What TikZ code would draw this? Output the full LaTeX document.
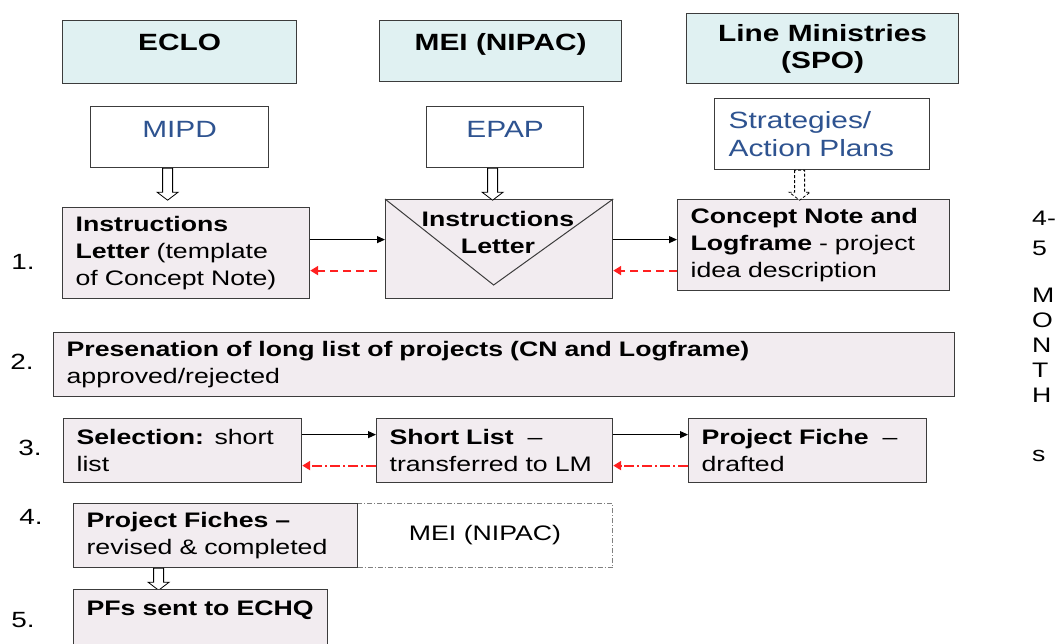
\documentclass[tikz,border=0pt]{standalone}
\usepackage{fontspec}
\setmainfont{Liberation Sans}[FakeStretch=1.27]
\usetikzlibrary{arrows.meta,calc}
\definecolor{hdrfill}{HTML}{E0F1F2}
\definecolor{procfill}{HTML}{F2ECF0}
\definecolor{edgegray}{HTML}{3C3C3C}
\definecolor{srcblue}{HTML}{2E5390}
\definecolor{backred}{HTML}{FF2020}
\newcommand{\hdown}[4][]{\draw[hollowarrow,#1] ($(#2)+(#3-5,0)$) -- ++(0,#4-8) -- ++(-5.5,0) -- ++(10.5,8) -- ++(10.5,-8) -- ++(-5.5,0) -- ++(0,8-#4) -- cycle;}
\begin{document}
\begin{tikzpicture}[x=1pt,y=-1pt,
  hdr/.style={draw=edgegray, line width=1.2pt, fill=hdrfill, anchor=north west, inner xsep=0pt, inner ysep=0pt, align=center, font=\fontsize{23.5}{27}\selectfont\bfseries},
  src/.style={draw=edgegray, line width=1.2pt, fill=white, anchor=north west, inner xsep=0pt, inner ysep=0pt, text=srcblue, font=\fontsize{23.5}{28}\selectfont},
  proc/.style={draw=edgegray, line width=1.2pt, fill=procfill, anchor=north west, inner xsep=13pt, inner ysep=0pt, align=left, font=\fontsize{21}{27}\selectfont},
  plain/.style={inner sep=0pt, font=\fontsize{21}{27}\selectfont},
  num/.style={inner sep=0pt, font=\fontsize{22}{26}\selectfont},
  fwd/.style={draw=black, line width=1.1pt, -{Triangle[length=8pt,width=7pt]}},
  backdash/.style={draw=backred, line width=2pt, dash pattern=on 8pt off 5pt, -{Triangle[length=8pt,width=9pt]}},
  backdot/.style={draw=backred, line width=2pt, dash pattern=on 10pt off 3pt on 2pt off 3pt, -{Triangle[length=8pt,width=9pt]}},
  hollowarrow/.style={draw=black, line width=0.8pt, fill=white},
  dashbox/.style={draw=gray, line width=1pt, dash pattern=on 5pt off 2pt on 1pt off 2pt, anchor=north west, inner sep=0pt, font=\fontsize{21}{27}\selectfont}
]
\useasboundingbox (0,0) rectangle (1059,643);

% headers
\node[hdr, minimum width=234, text height=30pt, text depth=33pt] (eclo) at (62,20) {ECLO};
\node[hdr, minimum width=242, text height=30pt, text depth=31pt] (meih) at (379,20) {MEI (NIPAC)};
\node[hdr, minimum width=272, minimum height=70] (lmh) at (686,13) {Line Ministries\\(SPO)};

% sources
\node[src, minimum width=178, text height=31pt, text depth=30pt] (mipd) at (90,106) {MIPD};
\node[src, minimum width=157, text height=31pt, text depth=30pt] (epap) at (426,106) {EPAP};
\node[src, minimum width=215, minimum height=71, inner xsep=14pt, text width=187pt, align=left] (strat) at (714,98) {Strategies/\\Action Plans};

% row 1
\node[proc, minimum height=91, text width=221pt] (inst) at (62,207) {\textbf{Instructions}\\\textbf{Letter} (template\\of Concept Note)};
\node[proc, minimum width=227, minimum height=99, inner xsep=0pt] (env) at (385,199) {};
\draw[edgegray, line width=1pt] (env.north west) -- ($(env.north west)!0.476!(env.north east)+(0,86)$) -- (env.north east);
\node[plain, align=center, font=\fontsize{21}{27}\selectfont\bfseries] (envtxt) at (498,232.5) {Instructions\\Letter};
\node[proc, minimum height=91, text width=246pt] (cn) at (677,199) {\textbf{Concept Note and}\\\textbf{Logframe} - project\\idea description};

\hdown{mipd.south}{-12}{32}
\hdown{epap.south}{-12.5}{32}
\hdown[dash pattern=on 3pt off 2pt]{strat.south}{-22.5}{30}

\draw[fwd] ([yshift=13.5pt]inst.east) -- ([yshift=13.5pt]inst.east -| env.west);
\draw[fwd] ([yshift=9.5pt]env.east) -- ([yshift=9.5pt]env.east -| cn.west);
\draw[backdash] ([xshift=-8pt,yshift=-21.5pt]env.west) -- ([yshift=-21.5pt]env.west -| inst.east);
\draw[backdash] ([yshift=-25.5pt]cn.west) -- ([yshift=-25.5pt]cn.west -| env.east);

% row 2
\node[proc, minimum height=64, text width=875pt] (long) at (53,332) {\textbf{Presenation of long list of projects (CN and Logframe)}\\approved/rejected};

% row 3
\node[proc, minimum height=64, text width=212pt] (sel) at (63,418) {\textbf{Selection:} short\\list};
\node[proc, minimum height=64, text width=210pt] (sl) at (376,418) {\textbf{Short List}\ \ –\\transferred to LM};
\node[proc, minimum height=64, text width=212pt] (pf) at (688,418) {\textbf{Project Fiche}\ \ –\\drafted};
\draw[fwd] ([yshift=16pt]sel.east) -- ([yshift=16pt]sel.east -| sl.west);
\draw[fwd] ([yshift=16pt]sl.east) -- ([yshift=16pt]sl.east -| pf.west);
\draw[backdot] ([yshift=-15pt]sl.west) -- ([yshift=-15pt]sl.west -| sel.east);
\draw[backdot] ([yshift=-15pt]pf.west) -- ([yshift=-15pt]pf.west -| sl.east);

% row 4
\node[dashbox, minimum width=255, minimum height=64] (meid) at (357,503) {MEI (NIPAC)};
\node[proc, minimum height=64, text width=258pt] (pfr) at (73,503) {\textbf{Project Fiches –}\\revised \& completed};
\hdown{pfr.south}{-57}{22}

% row 5
\node[proc, minimum width=254, text width=228pt, text height=26pt, text depth=44pt] (pfs) at (73,589) {\textbf{PFs sent to ECHQ}};

% numbers
\node[num] (n1) at (23,262) {1.};
\node[num] (n2) at (22,362) {2.};
\node[num] (n3) at (30,448) {3.};
\node[num] (n4) at (31,517) {4.};
\node[num] (n5) at (23,620) {5.};

% months
\node[plain, anchor=north west, align=left, font=\fontsize{21}{25}\selectfont] (mon) at (1032,211) {4-\\[5pt]5\\[22pt]M\\O\\N\\T\\H\\[34pt]s};
\end{tikzpicture}
\end{document}
